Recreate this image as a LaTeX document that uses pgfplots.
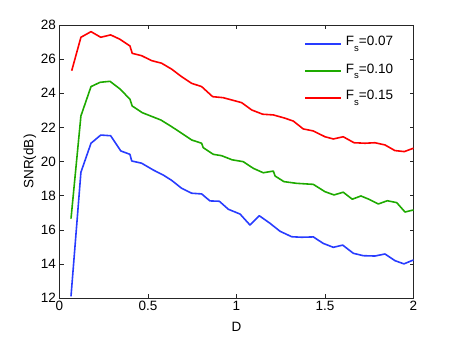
\documentclass[border=0pt]{standalone}
\usepackage{fontspec}
\setmainfont{Liberation Sans}
\usepackage{pgfplots}
\pgfplotsset{compat=1.18}
\definecolor{cblue}{RGB}{40,60,255}
\definecolor{cgreen}{RGB}{30,170,0}
\definecolor{cred}{RGB}{255,0,0}
\newcommand{\fs}{\fontsize{13.5bp}{16bp}\selectfont}
\newcommand{\Fs}{F\raisebox{-5.5bp}{\fontsize{9.5bp}{10bp}\selectfont s}}
\begin{document}
\begin{tikzpicture}
\begin{axis}[
  scale only axis,
  width=354bp, height=273bp,
  xmin=0, xmax=2, ymin=12, ymax=28,
  xtick={0,0.5,1,1.5,2},
  xticklabels={0,0.5,1,1.5,2},
  ytick={12,14,16,18,20,22,24,26,28},
  tick align=inside,
  major tick length=4bp,
  axis line style={color=black!85, line width=0.5pt},
  tick style={color=black!85, line width=0.5pt},
  /pgf/number format/assume math mode=true,
  ticklabel style={font=\fs},
  xticklabel style={yshift=0bp},
  xlabel={D}, ylabel={SNR(dB)},
  label style={font=\fs},
  xlabel style={yshift=-4bp},
  ylabel style={yshift=-2bp},
  lg/.style={line width=1.6pt, line join=round},
]
\coordinate (bl) at (rel axis cs:0,0);
\coordinate (tr) at (rel axis cs:1,1);
\addplot[color=cblue, lg] coordinates {
(0.065,12.1) (0.121,19.37) (0.178,21.07) (0.233,21.55) (0.289,21.51) (0.346,20.62) (0.398,20.42) (0.408,20.03) (0.464,19.9) (0.53,19.5) (0.587,19.2) (0.633,18.9) (0.690,18.43) (0.747,18.14) (0.803,18.1) (0.850,17.69) (0.903,17.67) (0.954,17.2) (1.020,16.92) (1.076,16.28) (1.129,16.82) (1.189,16.38) (1.246,15.91) (1.312,15.59) (1.368,15.56) (1.434,15.58) (1.490,15.2) (1.547,14.97) (1.600,15.1) (1.660,14.62) (1.716,14.48) (1.782,14.46) (1.839,14.58) (1.895,14.19) (1.946,14.0) (2.0,14.23)
};
\addplot[color=cgreen, lg] coordinates {
(0.065,16.65) (0.121,22.67) (0.178,24.39) (0.229,24.64) (0.285,24.7) (0.342,24.25) (0.398,23.65) (0.411,23.25) (0.468,22.86) (0.573,22.43) (0.634,22.04) (0.747,21.26) (0.803,21.07) (0.812,20.81) (0.869,20.42) (0.916,20.34) (0.975,20.1) (1.038,19.99) (1.095,19.6) (1.151,19.34) (1.208,19.44) (1.218,19.15) (1.268,18.82) (1.340,18.72) (1.434,18.66) (1.5,18.23) (1.551,18.04) (1.603,18.2) (1.654,17.79) (1.703,17.98) (1.745,17.8) (1.801,17.51) (1.852,17.7) (1.905,17.59) (1.952,17.04) (2.0,17.16)
};
\addplot[color=cred, lg] coordinates {
(0.069,25.32) (0.121,27.28) (0.178,27.61) (0.233,27.28) (0.289,27.42) (0.342,27.16) (0.398,26.77) (0.411,26.34) (0.464,26.2) (0.521,25.91) (0.577,25.76) (0.634,25.41) (0.690,24.97) (0.747,24.58) (0.803,24.39) (0.865,23.8) (0.925,23.74) (1.029,23.45) (1.086,23.02) (1.148,22.77) (1.208,22.73) (1.27,22.55) (1.321,22.37) (1.377,21.91) (1.434,21.79) (1.5,21.45) (1.547,21.32) (1.603,21.45) (1.664,21.1) (1.726,21.07) (1.782,21.1) (1.839,20.97) (1.895,20.64) (1.948,20.58) (2.0,20.78)
};
% legend
\addplot[color=cblue, line width=1.6pt, forget plot] coordinates {(1.387,26.87) (1.590,26.87)};
\addplot[color=cgreen, line width=1.6pt, forget plot] coordinates {(1.387,25.29) (1.590,25.29)};
\addplot[color=cred, line width=1.6pt, forget plot] coordinates {(1.387,23.71) (1.590,23.71)};
\node[anchor=base west, font=\fs, inner sep=0pt] at (axis cs:1.617,26.77) {\Fs=0.07};
\node[anchor=base west, font=\fs, inner sep=0pt] at (axis cs:1.617,25.17) {\Fs=0.10};
\node[anchor=base west, font=\fs, inner sep=0pt] at (axis cs:1.617,23.61) {\Fs=0.15};
\end{axis}
\pgfresetboundingbox
\path ([shift={(-59.5bp,-39bp)}]bl) rectangle ([shift={(43.5bp,25bp)}]tr);
\end{tikzpicture}
\end{document}
